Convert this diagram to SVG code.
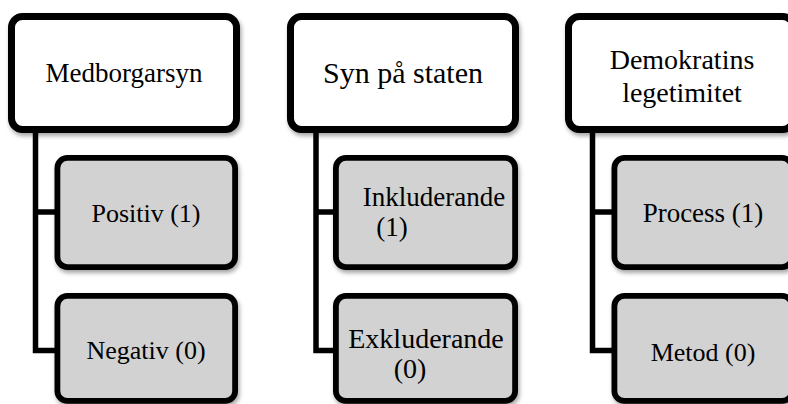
<svg xmlns="http://www.w3.org/2000/svg" width="788" height="404" viewBox="0 0 788 404">
<defs>
<filter id="sh" x="-10%" y="-10%" width="130%" height="140%">
<feDropShadow dx="1.5" dy="3" stdDeviation="2" flood-color="#000" flood-opacity="0.35"/>
</filter>
<style>
.hdr{fill:#fff;stroke:#000;stroke-width:7;filter:url(#sh)}
.chd{fill:#d2d2d2;stroke:#000;stroke-width:5.8;filter:url(#sh)}
.con{fill:none;stroke:#000;stroke-width:5.5}
text{fill:#000;text-anchor:middle}
</style>
</defs>
<rect width="788" height="404" fill="#fff"/>
<g id="connectors">
<path class="con" d="M35.5 132 V350.5 H57 M35.5 212 H57"/>
<path class="con" d="M316 132 V350.5 H336 M316 212 H336"/>
<path class="con" d="M592.5 132 V350.5 H614 M592.5 212 H614"/>
</g>
<g font-family="'Liberation Serif', 'DejaVu Serif', serif">
<g id="medborgarsyn">
<rect class="hdr" x="11.5" y="16.5" width="225" height="113" rx="11"/>
<text x="124" y="82" font-size="27">Medborgarsyn</text>
</g>
<g id="positiv">
<rect class="chd" x="57.4" y="157.9" width="177.7" height="109.2" rx="10"/>
<text x="146" y="222" font-size="26">Positiv (1)</text>
</g>
<g id="negativ">
<rect class="chd" x="57.4" y="295.9" width="177.7" height="105" rx="10"/>
<text x="146" y="359" font-size="26">Negativ (0)</text>
</g>
<g id="syn-pa-staten">
<rect class="hdr" x="290.5" y="16.5" width="225" height="113" rx="11"/>
<text x="403" y="83" font-size="30">Syn på staten</text>
</g>
<g id="inkluderande">
<rect class="chd" x="335.9" y="157.9" width="179.2" height="109.2" rx="10"/>
<text x="434" y="206" font-size="27">Inkluderande</text>
<text x="392" y="236" font-size="27">(1)</text>
</g>
<g id="exkluderande">
<rect class="chd" x="335.9" y="295.9" width="179.2" height="105" rx="10"/>
<text x="426" y="348" font-size="28">Exkluderande</text>
<text x="410" y="378" font-size="28">(0)</text>
</g>
<g id="demokratins-legetimitet">
<rect class="hdr" x="568.5" y="16.5" width="225" height="113" rx="11"/>
<text x="682" y="69" font-size="28">Demokratins</text>
<text x="682" y="102" font-size="28">legetimitet</text>
</g>
<g id="process">
<rect class="chd" x="614.4" y="157.9" width="177.7" height="109.2" rx="10"/>
<text x="703" y="222" font-size="27">Process (1)</text>
</g>
<g id="metod">
<rect class="chd" x="614.4" y="295.9" width="177.7" height="105" rx="10"/>
<text x="703" y="361" font-size="26">Metod (0)</text>
</g>
</g>
</svg>
